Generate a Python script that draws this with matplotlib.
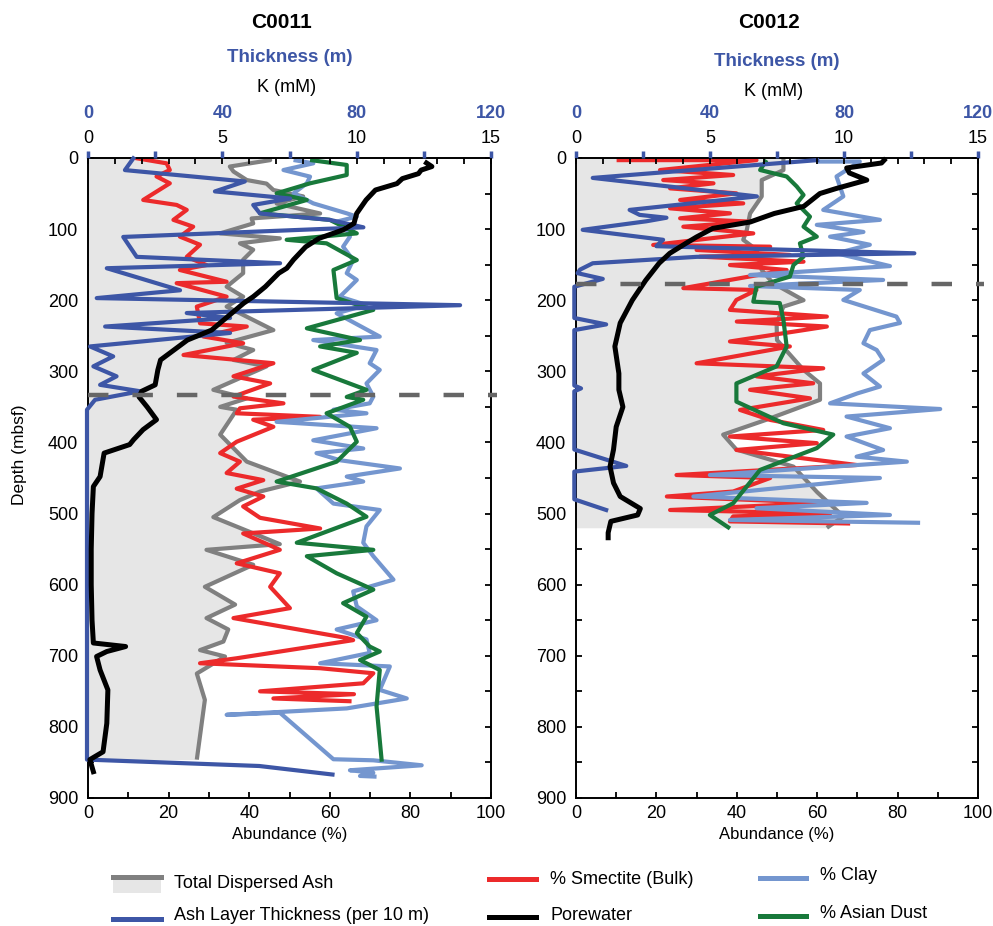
import numpy as np
import matplotlib.pyplot as plt
from matplotlib.lines import Line2D
from matplotlib.patches import Rectangle
from matplotlib.ticker import MultipleLocator

plt.rcParams['font.family'] = ['Liberation Sans', 'DejaVu Sans']

# ---- C0011 ----
d11_ash = [0, 3, 12, 19, 31, 36, 45, 54, 64, 78, 85, 92, 106, 113, 120, 129, 143, 162, 181, 195, 209, 242, 260, 270,
           284, 293, 326, 338, 350, 354, 389, 427, 455, 469, 481, 505, 543, 551, 572, 603, 628, 647, 663, 680, 692,
           701, 725, 762, 846]
ash11 = [45, 45.2, 35.2, 36.1, 39.4, 44.3, 46, 53.4, 46.8, 57.6, 40.6, 41, 32.8, 47.6, 37.7, 41, 38.5, 38.5, 34.4,
         38.5, 34.4, 46, 34.4, 41, 36.1, 44.3, 31.1, 39.4, 32.8, 36.9, 32.8, 39.4, 52.6, 42.7, 37.7, 31.1, 47.6, 29.4,
         41, 29, 36.5, 29.4, 34.8, 33.6, 27.8, 34, 27, 29, 27]

d11_smec = [0, 7.5, 16.9, 26, 35.6, 59, 66, 73, 87, 96.6, 110.6, 122, 139, 150.5, 157.5, 174, 176, 195, 209, 232.5,
            237, 251, 260.5, 277, 288.6, 307, 317, 335.5, 345, 352, 359, 364, 368, 378, 399, 415, 427, 443, 453, 465,
            476, 490, 506, 521, 528, 551, 570, 584, 603, 633, 647, 675, 678, 703.5, 710.5, 717.5, 724.6, 738.7, 750,
            754, 760, 764]
smec11 = [11.7, 19.5, 20.3, 17.0, 20.3, 13.7, 22.0, 24.5, 21.2, 26.1, 22.8, 27.8, 24.5, 29.4, 22.8, 34.4, 22.0, 34.4,
          27.0, 27.8, 39.4, 28.6, 38.5, 23.7, 46.0, 36.1, 45.2, 36.1, 48.5, 37.7, 36.9, 57.6, 41.0, 46.0, 36.9, 32.8,
          37.7, 34.4, 43.5, 36.9, 43.5, 38.5, 42.7, 57.6, 38.5, 47.6, 36.9, 47.6, 45.2, 50.1, 36.1, 64.2, 65.8, 36.9,
          27.8, 57.6, 70.8, 68.3, 42.7, 66, 46, 65.4]

d11_clay = [2.8, 7.5, 16.9, 26.2, 35.6, 49.7, 63.8, 77.8, 82.5, 89.5, 101, 110.6, 124.7, 143.5, 162, 171.5, 185.6,
            195, 206.7, 218.4, 251.2, 256, 270, 288.6, 298, 317, 335.5, 345, 354, 359, 371, 380, 397, 408.5, 415, 425,
            436.6, 448, 455, 464.6, 486, 495, 518, 541, 560, 593, 609.5, 630.6, 650, 663, 677, 696, 710.5, 715, 748,
            760, 774, 783, 780, 845.5, 847, 854, 861, 864.5, 869, 870]
clay11 = [51.0, 55.9, 48.5, 55.1, 54.3, 51.0, 55.9, 64.2, 66.7, 61.7, 64.2, 65.0, 63.3, 65.8, 64.2, 66.7, 64.2, 62.5,
          69.1, 61.7, 72.4, 55.9, 71.6, 69.9, 72.4, 69.1, 70.8, 69.9, 60.9, 69.1, 46.8, 71.6, 55.9, 68.3, 56.7, 62.5,
          77.4, 64.2, 68.3, 56.7, 60.9, 72.4, 69.1, 68.3, 70.8, 75.8, 65.8, 66.7, 71.6, 61.7, 69.1, 69.9, 57.6, 74.9,
          72.4, 79.1, 64.2, 34.4, 47.6, 60.9, 70.8, 82.8, 65.0, 70.8, 67.5, 71.6]

d11_dust = [2.8, 9.8, 23.9, 35.6, 49.7, 59, 77.8, 87, 106, 115, 120, 143.5, 157.5, 197, 213.6, 239.5, 256, 265, 274,
            298, 326, 336, 340, 359, 378, 399, 427, 455, 464.6, 486, 504.5, 541, 551, 560, 584, 607, 626, 645, 668,
            687, 694, 706, 720, 771, 849]
dust11 = [55.1, 64.2, 64.2, 55.1, 46.8, 54.3, 42.7, 60.0, 66.7, 49.3, 59.2, 66.7, 60.9, 61.7, 70.8, 54.3, 67.5, 57.6,
          66.7, 55.9, 69.1, 64.2, 68.3, 59.2, 65.0, 66.7, 61.7, 46.8, 56.7, 64.2, 69.1, 51.8, 70.8, 54.3, 61.7, 70.8,
          63.3, 69.1, 66.7, 69.9, 72.4, 67.5, 72.4, 71.6, 72.9]

d11_thick = [0.5, 17, 33, 47, 57, 66, 78, 87, 97.5, 111, 139, 148, 155, 186, 197, 207, 218, 225, 237, 246, 265, 279,
             293, 307, 319, 328, 340, 354, 500, 700, 846, 855, 867]
thick11 = [13.5, 11, 46.7, 37.8, 60.2, 49.2, 51.2, 72, 82, 10.5, 14.5, 57.2, 5.6, 27.4, 2.6, 110.8, 29.4, 42.3, 5.1,
           42.3, 0.6, 7.5, 1.6, 8.5, 3.6, 15.5, 2.1, -0.3, -0.3, -0.3, -0.3, 51, 72.8]

d11_k = [7, 12, 17, 22, 29, 36, 45, 59, 78, 92, 101, 113, 125, 143, 155, 162, 181, 195, 204, 223, 242, 256, 284, 298,
         319, 328, 336, 350, 368, 382, 396, 403, 415, 448, 462, 500, 550, 600, 650, 682, 687, 694, 701, 720, 748, 795,
         835, 846, 863]
k11 = [12.6, 12.8, 12.4, 12.3, 11.7, 11.5, 10.7, 10.35, 10.0, 9.9, 9.5, 8.6, 8.1, 7.65, 7.4, 7.1, 6.6, 6.15, 5.8, 5.2,
       4.6, 3.7, 2.7, 2.6, 2.5, 2.0, 1.9, 2.2, 2.55, 2.05, 1.7, 1.55, 0.6, 0.45, 0.2, 0.15, 0.12, 0.12, 0.15, 0.2, 1.4,
       0.7, 0.32, 0.45, 0.74, 0.7, 0.56, 0.07, 0.2]

# ---- C0012 ----
d12_ash = [0, 17, 31, 54, 78, 101, 115, 129, 157.5, 176, 200, 209, 232, 256, 298, 317, 340, 368, 389, 410, 434, 470,
           504, 520]
ash12 = [51.6, 51.6, 46.2, 46.2, 43.3, 42.5, 41.6, 44.9, 46.2, 49, 56.6, 51.6, 49.9, 50, 56.6, 60.7, 60.7, 47.4, 36.6,
         39.9, 54.1, 60, 66.5, 62.4]

d12_smec = [3, 3, 16.9, 23.9, 31, 35.6, 42.7, 49.7, 59, 63.8, 70.8, 77.8, 84.8, 89.5, 96.6, 106, 122.3, 124.7, 129.3,
            136.3, 138.7, 145.8, 150.5, 157.5, 183, 185.6, 199.6, 213.6, 223, 230, 237, 258, 265, 288.7, 295.7, 307,
            316.8, 326, 338, 354.3, 368.3, 382.4, 391.7, 401, 410.6, 431.7, 445.8, 450, 469, 476, 485, 495, 500, 504,
            511, 514]
smec12 = [10.1, 44.9, 20.9, 39.1, 21.7, 34.2, 23.4, 39.9, 25.9, 41.6, 23.4, 38.3, 25.9, 43.3, 26.7, 44.1, 19.2, 48.3,
          30.0, 53.2, 30.8, 56.6, 38.3, 52.4, 26.7, 44.9, 39.9, 38.3, 62.4, 40.0, 62.4, 38.3, 53.2, 30.0, 61.5, 44.9,
          59.0, 43.3, 58.2, 40.8, 48.3, 61.5, 38.3, 59.9, 39.9, 69.8, 25.0, 48.3, 39.1, 22.6, 61.5, 23.4, 63.2, 39.1,
          38.3, 68.2]

d12_clay = [5, 5, 26, 54, 73, 87, 94, 104, 110.6, 122, 134, 152, 164.5, 171.5, 180, 185.6, 199.6, 223, 232, 242,
            260.5, 270, 284, 303, 321.4, 331, 345, 353, 363.6, 380, 391.7, 410.6, 420, 427, 445.8, 450, 476, 485,
            492.5, 502, 509, 513]
clay12 = [59.9, 70.6, 64.8, 66.5, 61.5, 75.6, 59.9, 71.5, 63.2, 73.1, 64.8, 78.1, 43.3, 76.4, 43.3, 70.6, 66.5, 79.7,
          80.6, 73.1, 71.5, 74.8, 76.4, 71.5, 75.6, 70.0, 63.2, 90.6, 67.3, 78.1, 67.3, 76.4, 69.8, 82.3, 33.3, 75.6,
          29.2, 72.3, 44.9, 78.1, 38.3, 85.6]

d12_dust = [2.8, 16.9, 26, 40, 52, 63.8, 82.5, 96.6, 110.6, 120, 138.7, 150.5, 166.8, 181, 202, 204, 228, 265, 293,
            317, 342.6, 373, 389, 408, 438.6, 485.5, 502, 521]
dust12 = [47.4, 45.8, 52.4, 54.9, 56.6, 54.9, 58.2, 56.6, 59.9, 55.7, 56.6, 54.1, 53.2, 44.9, 44.1, 50.7, 51.6, 52.4,
          49.9, 39.9, 39.9, 51.6, 64.0, 59.9, 45.8, 39.1, 33.3, 38.3]

d12_thick = [3, 28, 54, 73, 80, 84, 89, 101, 115, 124, 134, 139, 148, 157, 162, 170, 181, 225, 234, 242, 320, 324,
             328, 410, 433, 441, 480, 495]
thick12 = [72, 5, 54, 16, 19, 27, 21, 2, 26, 24, 101, 36, 5, 1.2, 0.5, 8, -0.5, -0.5, 9, -0.5, -0.5, 1.5, -0.5, -0.5,
           15, -0.5, -0.5, 9]

d12_k = [3, 7, 14, 21, 31, 43, 50, 68, 78, 90, 99, 111, 120, 134, 148, 172, 200, 232, 265, 303, 326, 350, 378, 410,
         434, 457, 476, 493, 502, 511, 527, 534]
k12 = [11.5, 11.4, 10.1, 10.2, 10.85, 9.7, 9.1, 8.5, 7.4, 6.5, 5.1, 4.5, 4.1, 3.5, 3.1, 2.6, 2.1, 1.65, 1.45, 1.6,
       1.6, 1.75, 1.5, 1.4, 1.27, 1.4, 1.65, 2.4, 2.3, 1.3, 1.2, 1.2]

GRAY = '#808080'
FILL = '#e6e6e6'
RED = '#ec2a2b'
CLAY = '#7496cf'
DUST = '#18793b'
BLUE = '#3d56a6'
DASH = '#666666'

W, H = 993, 926
fig = plt.figure(figsize=(W / 100, H / 100), dpi=100)


def fx(x):
    return x / W


def fy(y):
    return 1 - y / H


def panel(x0, x1, site, top_off, dash_depth, ash, smec, clay, dust, thick, kk, ylabel):
    ax = fig.add_axes([fx(x0), fy(798), (x1 - x0) / W, 640 / H])
    ax.set_xlim(0, 100)
    ax.set_ylim(900, 0)
    ax.set_axisbelow(True)
    ax.fill_betweenx(ash[0], 0, ash[1], color=FILL, lw=0, zorder=1)
    kw = dict(lw=3.0, solid_joinstyle='round', solid_capstyle='butt', zorder=2)
    ax.plot(ash[1], ash[0], color=GRAY, **kw)
    ax.plot(smec[1], smec[0], color=RED, **kw)
    ax.plot(clay[1], clay[0], color=CLAY, **kw)
    ax.plot(dust[1], dust[0], color=DUST, **kw)

    ax.xaxis.set_major_locator(MultipleLocator(20))
    ax.xaxis.set_minor_locator(MultipleLocator(10))
    ax.yaxis.set_major_locator(MultipleLocator(100))
    ax.yaxis.set_minor_locator(MultipleLocator(50))
    ax.tick_params(which='both', direction='in', top=False, right=True, length=4, width=1.3, labelsize=13)
    ax.tick_params(axis='x', pad=5)
    ax.tick_params(axis='y', pad=7)
    for s in ax.spines.values():
        s.set_linewidth(1.4)
    ax.set_xlabel('Abundance (%)', fontsize=12, labelpad=4)

    axt = ax.twiny()
    axt.set_xlim(0, 120)
    axt.set_xticks([0, 40, 80, 120], labels=['0', '40', '80', '120'], fontweight='bold')
    axt.xaxis.set_minor_locator(MultipleLocator(20))
    axt.tick_params(axis='x', which='both', direction='out', length=5, width=2.5, color=BLUE,
                    labelcolor=BLUE, labelsize=13, pad=21)
    for s in axt.spines.values():
        s.set_visible(False)
    axt.plot(thick[1], thick[0], color=BLUE, lw=3.0, solid_joinstyle='round', clip_on=False)

    axk = ax.twiny()
    axk.set_xlim(0, 15)
    axk.set_xticks([0, 5, 10, 15])
    axk.xaxis.set_minor_locator(MultipleLocator(1))
    axk.tick_params(axis='x', which='both', direction='in', length=4, width=1.3, labelsize=13, pad=8)
    for s in axk.spines.values():
        s.set_visible(False)
    axk.plot(kk[1], kk[0], color='black', lw=3.6, solid_joinstyle='round', clip_on=False)
    axk.axhline(dash_depth, color=DASH, lw=3.2, dashes=(4.6, 5.4), xmax=1.015, clip_on=False)

    cx = (x0 + x1) / 2
    fig.text(fx(cx - 8), fy(22), site, fontsize=15, fontweight='bold', ha='center', va='center')
    fig.text(fx(cx), fy(57 + top_off), 'Thickness (m)', fontsize=13.5, fontweight='bold', color=BLUE,
             ha='center', va='center')
    fig.text(fx(cx - 3), fy(87 + top_off), 'K (mM)', fontsize=13, ha='center', va='center')
    if ylabel:
        fig.text(fx(20), fy(455), 'Depth (mbsf)', rotation=90, fontsize=12.5, ha='center', va='center')
    return ax


panel(88, 491, 'C0011', 0, 333, (d11_ash, ash11), (d11_smec, smec11), (d11_clay, clay11), (d11_dust, dust11),
      (d11_thick, thick11), (d11_k, k11), True)
panel(576, 978, 'C0012', 5, 177, (d12_ash, ash12), (d12_smec, smec12), (d12_clay, clay12), (d12_dust, dust12),
      (d12_thick, thick12), (d12_k, k12), False)

# legend drawn by hand at the bottom of the figure
fig.add_artist(Rectangle((fx(113), fy(893)), 48 / W, 14 / H, transform=fig.transFigure, color=FILL, lw=0))
legend_lines = [
    (113, 161, 876.5, GRAY, 'Total Dispersed Ash', 174, 884),
    (113, 161, 919, BLUE, 'Ash Layer Thickness (per 10 m)', 174, 916),
    (489, 536, 879, RED, '% Smectite (Bulk)', 550, 879),
    (489, 536, 917, 'black', 'Porewater', 550, 916),
    (760, 806, 878, CLAY, '% Clay', 820, 876),
    (760, 806, 916, DUST, '% Asian Dust', 820, 913),
]
for xa, xb, yl, c, lab, tx, ty in legend_lines:
    fig.add_artist(Line2D([fx(xa), fx(xb)], [fy(yl), fy(yl)], transform=fig.transFigure, color=c, lw=3.6))
    fig.text(fx(tx), fy(ty), lab, fontsize=13, ha='left', va='center')

fig.savefig('out.png', dpi=100)
